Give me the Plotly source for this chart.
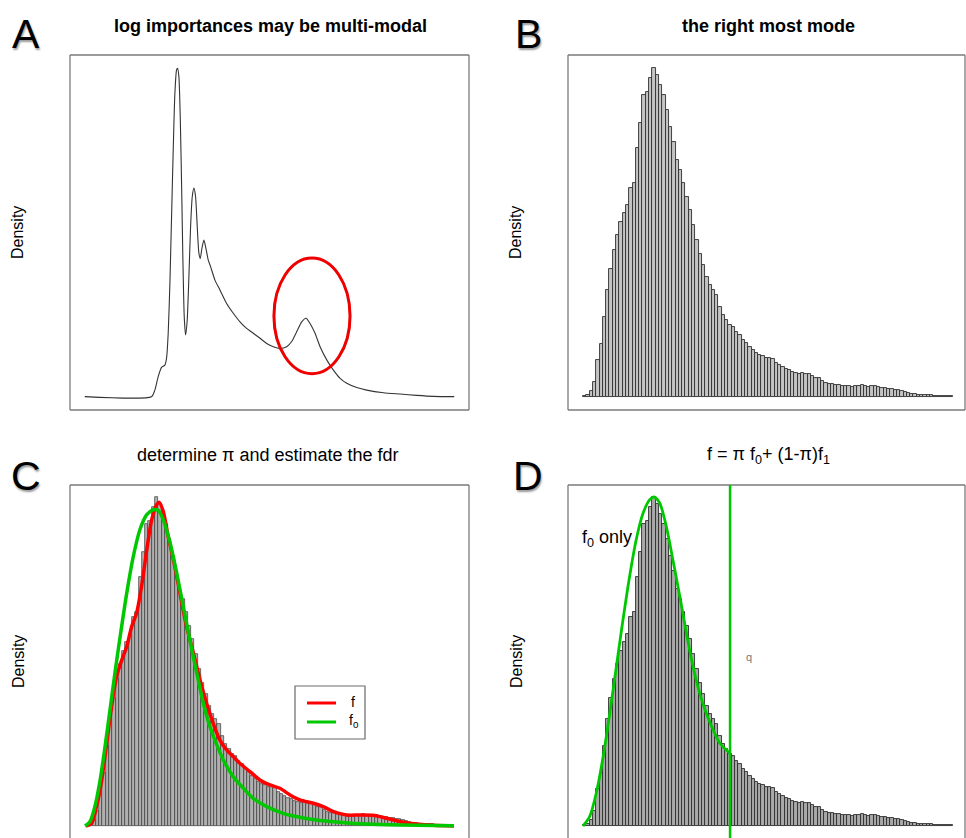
import plotly.graph_objects as go

W, H = 966, 838

# ---------------- data ----------------
# Panel A: kernel density of log importances (x in arbitrary log-importance units)
logimp_x = [0, 18.07, 18.97, 19.87, 20.78, 21.68, 22.13, 22.58, 23.04, 23.49, 23.94, 24.39,
            24.84, 25.11, 25.47, 25.84, 26.20, 26.56, 26.92, 27.28, 27.73, 28.18, 28.64,
            29.09, 29.54, 29.99, 30.44, 30.89, 31.26, 31.71, 32.25, 32.79, 33.42, 34.06,
            35.23, 36.59, 38.39, 40.20, 42.01, 43.81, 45.62, 47.43, 49.23, 51.04, 52.85,
            54.65, 56.01, 57.36, 58.72, 59.89, 60.98, 62.33, 63.69, 65.49, 67.30, 69.11,
            70.91, 73.62, 76.33, 80.85, 85.37, 89.88, 94.40, 100]
logimp_density = [0, 0, 0.020, 0.061, 0.089, 0.096, 0.117, 0.193, 0.345, 0.548, 0.751, 0.924,
                  0.995, 1.0, 0.975, 0.853, 0.650, 0.416, 0.244, 0.188, 0.234, 0.365, 0.518,
                  0.609, 0.635, 0.609, 0.518, 0.437, 0.421, 0.452, 0.477, 0.452, 0.416, 0.396,
                  0.355, 0.325, 0.284, 0.254, 0.228, 0.208, 0.193, 0.178, 0.162, 0.152, 0.147,
                  0.152, 0.168, 0.198, 0.228, 0.239, 0.223, 0.193, 0.152, 0.112, 0.081, 0.056,
                  0.041, 0.028, 0.020, 0.012, 0.008, 0.004, 0.001, 0]
# highlighted right-most mode (ellipse centre and half-widths, data units)
mode_cx, mode_cy, mode_rx, mode_ry = 61.5, 0.246, 10.3, 0.176

# Panels B-D: histogram of the right-most mode (112 equal-width bins)
mode_counts = [2, 5, 18, 45, 110, 160, 240, 320, 385, 440, 485, 525, 550, 575, 625, 640,
               745, 820, 905, 915, 955, 985, 965, 935, 905, 860, 810, 765, 710, 680, 640,
               600, 560, 515, 470, 430, 395, 360, 335, 320, 305, 270, 245, 230, 215, 210,
               195, 185, 170, 162, 150, 140, 132, 125, 122, 118, 117, 113, 102, 97, 90, 85,
               80, 75, 72, 68, 72, 70, 68, 62, 58, 56, 48, 42, 40, 38, 36, 35, 33, 32, 33,
               31, 32, 34, 35, 33, 30, 32, 33, 29, 27, 26, 24, 23, 21, 20, 17, 15, 12, 10,
               8, 7, 6, 7, 6, 5, 4, 4, 3, 3, 2, 2]
bin_centers = [i + 0.5 for i in range(len(mode_counts))]

# Panel C: mixture density f and null density f0 (bin units, count scale)
f_x = [0, 1.7, 3.2, 4.8, 6.3, 7.8, 9.3, 10.9, 12.4, 13.9, 15.4, 16.9, 18.5, 20.0, 21.5, 22.3,
       23.5, 25.0, 26.6, 28.6, 30.6, 32.7, 34.7, 36.7, 38.7, 40.7, 42.8, 44.8, 46.8, 49.9,
       52.9, 56.0, 59.0, 62.1, 65.1, 69.2, 72.2, 75.3, 79.3, 83.4, 87.4, 91.5, 95.6, 100.6,
       105.7, 112]
f_y = [0, 8, 58, 138, 248, 358, 448, 498, 538, 598, 638, 718, 828, 918, 963, 970, 943, 868,
       798, 698, 598, 518, 438, 368, 308, 258, 228, 208, 188, 163, 138, 123, 113, 93, 78, 68,
       58, 43, 33, 33, 32, 23, 13, 6, 2, 0]
f0_x = [-0.3, 1.2, 2.7, 4.3, 5.8, 7.3, 8.8, 10.4, 12.4, 14.4, 16.4, 18.5, 20.5, 22.0, 23.5,
        25.6, 27.6, 29.6, 31.6, 33.7, 35.7, 37.7, 39.8, 41.8, 44.8, 47.9, 50.9, 55.0, 60.0,
        65.1, 70.2, 75.3, 85.4, 95.6, 112]
f0_y = [0, 13, 58, 138, 238, 348, 458, 568, 698, 808, 888, 933, 948, 946, 918, 848, 758, 658,
        558, 458, 368, 298, 243, 198, 148, 113, 83, 58, 38, 26, 18, 13, 6, 3, 1]

# Panel D: f0 scaled to the histogram, drawn up to the threshold q
f0d_x = [0, 2.0, 4.0, 6.1, 8.1, 10.1, 12.1, 14.1, 16.1, 18.2, 20.2, 21.5, 23.2, 25.2, 27.2,
         29.3, 31.3, 33.3, 35.3, 37.3, 39.4, 41.4, 44.5]
f0d_y = [0, 28, 98, 208, 338, 478, 618, 748, 858, 938, 978, 986, 968, 898, 798, 688, 578,
         478, 398, 338, 288, 248, 218]
q_threshold = 44.5

# ---------------- helpers ----------------
FONT = "Liberation Sans, Arial, Helvetica, sans-serif"


def PX(x):
    return x / W


def PY(y):
    return 1 - y / H


GREEN = "#00c800"
RED = "#ff0000"

fig = go.Figure()

# A
fig.add_trace(go.Scatter(x=logimp_x, y=logimp_density, mode="lines", xaxis="x", yaxis="y",
                         line=dict(color="#333333", width=1.1, shape="spline", smoothing=0.6),
                         showlegend=False, hoverinfo="skip"))
# B
fig.add_trace(go.Bar(x=bin_centers, y=mode_counts, width=1, xaxis="x2", yaxis="y2",
                     marker=dict(color="#c4c4c4", line=dict(color="#303030", width=0.9)),
                     showlegend=False, hoverinfo="skip"))
# C
fig.add_trace(go.Bar(x=bin_centers, y=mode_counts, width=1, xaxis="x3", yaxis="y3",
                     marker=dict(color="#b0b0b0", line=dict(color="#3a3a3a", width=0.7)),
                     showlegend=False, hoverinfo="skip"))
fig.add_trace(go.Scatter(x=f_x, y=f_y, mode="lines", xaxis="x3", yaxis="y3",
                         line=dict(color=RED, width=3.5, shape="spline", smoothing=0.8),
                         showlegend=False, hoverinfo="skip"))
fig.add_trace(go.Scatter(x=f0_x, y=f0_y, mode="lines", xaxis="x3", yaxis="y3",
                         line=dict(color=GREEN, width=3.5, shape="spline", smoothing=0.8),
                         showlegend=False, hoverinfo="skip"))
# D
fig.add_trace(go.Bar(x=bin_centers, y=mode_counts, width=1, xaxis="x4", yaxis="y4",
                     marker=dict(color="#a9a9a9", line=dict(color="#2e2e2e", width=0.9)),
                     showlegend=False, hoverinfo="skip"))
fig.add_trace(go.Scatter(x=f0d_x, y=f0d_y, mode="lines", xaxis="x4", yaxis="y4",
                         line=dict(color=GREEN, width=2.8, shape="spline", smoothing=0.8),
                         showlegend=False, hoverinfo="skip"))

ax = dict(showgrid=False, zeroline=False, showticklabels=False, ticks="", showline=False)

xdomL = [PX(70), PX(469)]
xdomR = [PX(568), PX(965)]
ydomT = [PY(410), PY(55)]
ydomB = [0, PY(485)]

fig.update_layout(
    width=W, height=H, margin=dict(l=0, r=0, t=0, b=0),
    paper_bgcolor="white", plot_bgcolor="white", bargap=0,
    xaxis=dict(ax, domain=xdomL, range=[-4, 104], anchor="y"),
    yaxis=dict(ax, domain=ydomT, range=[-0.0406, 1.0406], anchor="x"),
    xaxis2=dict(ax, domain=xdomR, range=[-4.54, 115.6], anchor="y2"),
    yaxis2=dict(ax, domain=ydomT, range=[-39, 1025], anchor="x2"),
    xaxis3=dict(ax, domain=xdomL, range=[-4.87, 116.56], anchor="y3"),
    yaxis3=dict(ax, domain=ydomB, range=[-36, 1022], anchor="x3"),
    xaxis4=dict(ax, domain=xdomR, range=[-4.54, 115.6], anchor="y4"),
    yaxis4=dict(ax, domain=ydomB, range=[-36, 1022], anchor="x4"),
)

shapes = []
BORDER = dict(color="#7a7a7a", width=1.3)
for xa, ya, bottom in [("x", "y", True), ("x2", "y2", True), ("x3", "y3", False), ("x4", "y4", False)]:
    xr, yr = xa + " domain", ya + " domain"
    shapes.append(dict(type="line", xref=xr, yref=yr, x0=0, x1=0, y0=0, y1=1, line=BORDER))
    shapes.append(dict(type="line", xref=xr, yref=yr, x0=1, x1=1, y0=0, y1=1, line=BORDER))
    shapes.append(dict(type="line", xref=xr, yref=yr, x0=0, x1=1, y0=1, y1=1, line=BORDER))
    if bottom:
        shapes.append(dict(type="line", xref=xr, yref=yr, x0=0, x1=1, y0=0, y1=0, line=BORDER))

# red ellipse around the right-most mode
shapes.append(dict(type="circle", xref="x", yref="y",
                   x0=mode_cx - mode_rx, x1=mode_cx + mode_rx,
                   y0=mode_cy - mode_ry, y1=mode_cy + mode_ry,
                   line=dict(color="#ee0000", width=3)))
# threshold line in D
shapes.append(dict(type="line", xref="x4", yref="y4 domain", x0=q_threshold, x1=q_threshold,
                   y0=-0.05, y1=1, line=dict(color=GREEN, width=2.5)))
# manual legend in C
shapes.append(dict(type="rect", xref="paper", yref="paper", x0=PX(295), x1=PX(365),
                   y0=PY(739), y1=PY(686), line=dict(color="#6a6a6a", width=1.2),
                   fillcolor="white"))
shapes.append(dict(type="line", xref="paper", yref="paper", x0=PX(307), x1=PX(336),
                   y0=PY(703), y1=PY(703), line=dict(color=RED, width=3)))
shapes.append(dict(type="line", xref="paper", yref="paper", x0=PX(307), x1=PX(336),
                   y0=PY(722), y1=PY(722), line=dict(color=GREEN, width=3)))

annotations = []


def txt(text, x, y, size, bold=False, color="black", angle=0, xanchor="center", shadow=None):
    f = dict(family=FONT, size=size, color=color)
    if bold:
        f["weight"] = "bold"
    if shadow:
        f["shadow"] = shadow
    annotations.append(dict(text=text, x=PX(x), y=PY(y), xref="paper", yref="paper",
                            showarrow=False, font=f, textangle=angle,
                            xanchor=xanchor, yanchor="middle"))


# panel letters
LSH = "1px 2px 2px #9a9a9a"
txt("A", 26, 34, 41, shadow=LSH)
txt("B", 528, 34, 41, shadow=LSH)
txt("C", 26, 476, 41, shadow=LSH)
txt("D", 528, 476, 41, shadow=LSH)

# titles
txt("log importances may be multi-modal", 270, 26, 18, bold=True)
txt("the right most mode", 768, 26, 18, bold=True)
txt("determine π and estimate the fdr", 268, 455, 18)
txt("f = π f<sub>0</sub>+ (1-π)f<sub>1</sub>", 768, 455, 18)

# y labels
for x, y in [(18, 233), (516, 233), (18, 662), (516, 662)]:
    txt("Density", x, y, 16, angle=-90)

# legend labels
txt("f", 349, 702, 14, xanchor="left")
txt("f<sub>0</sub>", 347, 721, 14, xanchor="left")

# D texts
txt("f<sub>0</sub> only", 580, 538, 18, xanchor="left")
txt("q", 749, 657, 11, color="#777777")

fig.update_layout(shapes=shapes, annotations=annotations)

fig.write_html("out.html", config={"displayModeBar": False},
               post_script="document.body.style.margin='0';document.body.style.overflow='hidden';")
